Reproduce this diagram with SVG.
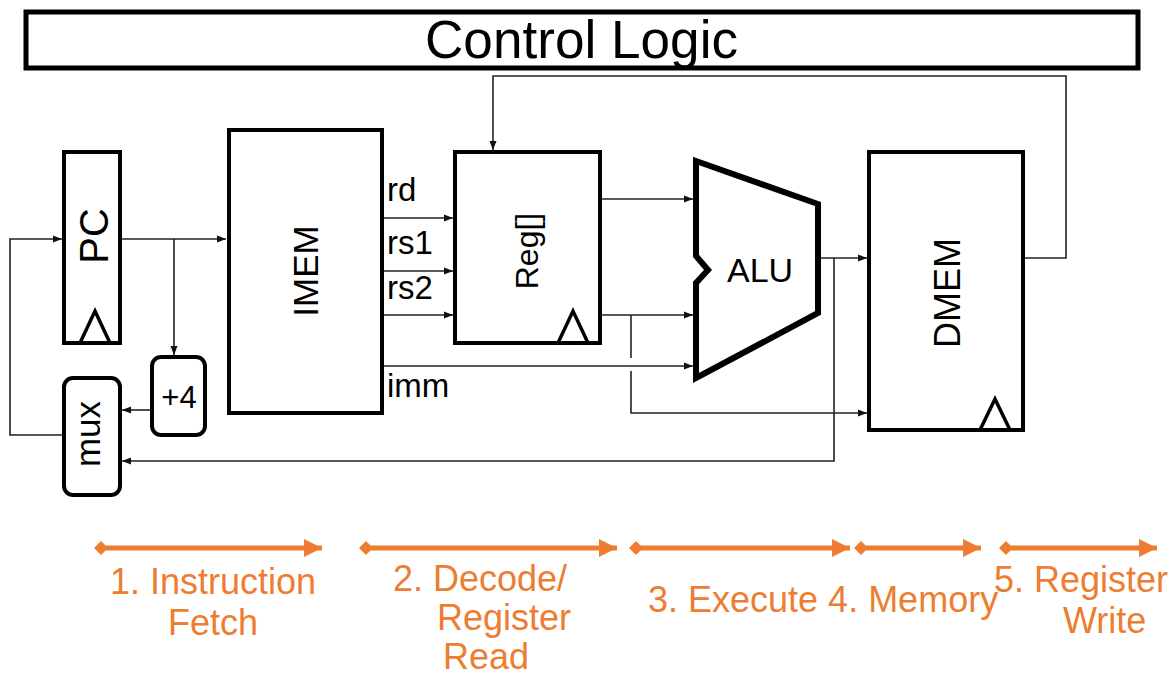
<svg xmlns="http://www.w3.org/2000/svg" width="1170" height="675" viewBox="0 0 1170 675">
<style>
.box{fill:#fff;stroke:#000;stroke-width:4}
.rbox{fill:#fff;stroke:#000;stroke-width:4}
.clk{fill:none;stroke:#000;stroke-width:3.5;stroke-linejoin:miter}
.w{fill:none;stroke:#222;stroke-width:1.6}
.t{font-family:"Liberation Sans",Arial,sans-serif;fill:#000}
.o{fill:none;stroke:#ED7D31;stroke-width:5}
.ot{font-family:"Liberation Sans",Arial,sans-serif;fill:#ED7D31;font-size:36px}
</style>
<defs>
<marker id="ah" markerUnits="userSpaceOnUse" markerWidth="10" markerHeight="10" refX="9" refY="5" orient="auto">
<path d="M0,1.5 L9,5 L0,8.5 Z" fill="#111"/>
</marker>
<marker id="oh" markerUnits="userSpaceOnUse" markerWidth="22" markerHeight="22" refX="19" refY="11" orient="auto">
<path d="M1,2 L19,11 L1,20 Z" fill="#ED7D31"/>
</marker>
<marker id="od" markerUnits="userSpaceOnUse" markerWidth="16" markerHeight="16" refX="8" refY="8" orient="auto">
<path d="M1,8 L8,1 L15,8 L8,15 Z" fill="#ED7D31"/>
</marker>
</defs>

<g id="control-logic">
<rect x="26" y="12" width="1112" height="56" fill="#fff" stroke="#000" stroke-width="5"/>
<text class="t" x="425" y="58" font-size="53" textLength="313" lengthAdjust="spacingAndGlyphs">Control Logic</text>
</g>

<g id="connectors">
<path class="w" d="M120 239 H226" marker-end="url(#ah)"/>
<path class="w" d="M174 239 V355" marker-end="url(#ah)"/>
<path class="w" d="M152 410 H122" marker-end="url(#ah)"/>
<path class="w" d="M64 435 H10 V239 H62" marker-end="url(#ah)"/>
<path class="w" d="M382 218 H453" marker-end="url(#ah)"/>
<path class="w" d="M382 271 H453" marker-end="url(#ah)"/>
<path class="w" d="M382 315 H453" marker-end="url(#ah)"/>
<path class="w" d="M377 366 H693" marker-end="url(#ah)"/>
<path class="w" d="M600 199 H693" marker-end="url(#ah)"/>
<path class="w" d="M600 315 H693" marker-end="url(#ah)"/>
<path class="w" d="M631 315 V358"/>
<path class="w" d="M631 371 V413 H867" marker-end="url(#ah)"/>
<path class="w" d="M820 258 H867" marker-end="url(#ah)"/>
<path class="w" d="M834 258 V461 H122" marker-end="url(#ah)"/>
<path class="w" d="M1023 258 H1066 V76 H493 V150" marker-end="url(#ah)"/>
</g>

<g id="pc">
<rect class="box" x="64" y="152" width="56" height="191"/>
<path class="clk" d="M80 343 L95 311 L110 343"/>
<text class="t" font-size="40" text-anchor="middle" transform="translate(108 236) rotate(-90)">PC</text>
</g>

<g id="plus4">
<rect class="rbox" x="152" y="357" width="53" height="78" rx="9"/>
<text class="t" font-size="31" text-anchor="middle" x="179" y="408">+4</text>
</g>

<g id="mux">
<rect class="rbox" x="64" y="378" width="56" height="117" rx="9"/>
<text class="t" font-size="35" text-anchor="middle" transform="translate(100 434) rotate(-90)">mux</text>
</g>

<g id="imem">
<rect class="box" x="229" y="130" width="153" height="283"/>
<text class="t" font-size="35" text-anchor="middle" transform="translate(318 271) rotate(-90)">IMEM</text>
<text class="t" font-size="33" x="387" y="201">rd</text>
<text class="t" font-size="33" x="387" y="254">rs1</text>
<text class="t" font-size="33" x="387" y="299">rs2</text>
<text class="t" font-size="33" x="387" y="397">imm</text>
</g>

<g id="reg">
<rect class="box" x="455" y="152" width="145" height="191"/>
<path class="clk" d="M558 343 L573 311 L588 343"/>
<text class="t" font-size="32" text-anchor="middle" transform="translate(538 251) rotate(-90)">Reg[]</text>
</g>

<g id="alu">
<path d="M696 161 L818 204 L818 313 L696 378 L696 283 L708 270 L696 256 Z" fill="#fff" stroke="#000" stroke-width="6" stroke-linejoin="miter"/>
<text class="t" font-size="34" x="727" y="282">ALU</text>
</g>

<g id="dmem">
<rect class="box" x="869" y="152" width="154" height="278"/>
<path class="clk" d="M980 430 L995 399 L1010 430"/>
<text class="t" font-size="36" text-anchor="middle" transform="translate(960 293) rotate(-90)">DMEM</text>
</g>

<g id="stages">
<path class="o" d="M101 548 H322" marker-start="url(#od)" marker-end="url(#oh)"/>
<path class="o" d="M366 548 H617" marker-start="url(#od)" marker-end="url(#oh)"/>
<path class="o" d="M636 548 H850" marker-start="url(#od)" marker-end="url(#oh)"/>
<path class="o" d="M861 548 H981" marker-start="url(#od)" marker-end="url(#oh)"/>
<path class="o" d="M1006 548 H1157" marker-start="url(#od)" marker-end="url(#oh)"/>
<text class="ot" x="110" y="594">1. Instruction</text>
<text class="ot" x="168" y="635">Fetch</text>
<text class="ot" x="393" y="591">2. Decode/</text>
<text class="ot" x="437" y="630">Register</text>
<text class="ot" x="443" y="669">Read</text>
<text class="ot" x="648" y="612">3. Execute 4. Memory</text>
<text class="ot" x="994" y="592">5. Register</text>
<text class="ot" x="1063" y="633">Write</text>
</g>
</svg>
